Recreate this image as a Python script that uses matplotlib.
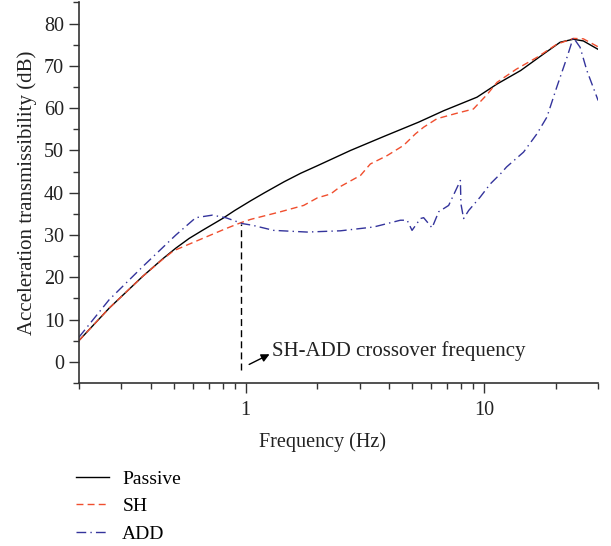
import matplotlib
matplotlib.use('Agg')
import matplotlib.pyplot as plt
from matplotlib.ticker import FixedLocator, NullFormatter, MultipleLocator
import numpy as np

plt.rcParams['font.family'] = ['Liberation Serif', 'DejaVu Serif']

# data
passive_f = [0.2, 0.268, 0.37, 0.45, 0.51, 0.58, 0.659, 0.8, 0.9, 1.05, 1.2, 1.45, 1.7, 2.0,
             2.75, 3.79, 5.31, 6.76, 9.32, 11.3, 14.2, 17.7, 20.8, 23.6, 26, 30]
passive_db = [5.0, 12.7, 20.2, 24.4, 26.9, 29.2, 31.1, 33.9, 35.8, 38.1, 40.0, 42.6, 44.6,
              46.4, 50.0, 53.3, 56.7, 59.4, 62.6, 65.7, 68.9, 72.8, 75.6, 76.3, 75.9, 73.9]

sh_f = [0.2, 0.268, 0.37, 0.45, 0.5, 0.6, 0.7, 0.825, 0.953, 1.05, 1.4, 1.75, 2.0, 2.27, 2.5,
        3.03, 3.33, 3.92, 4.59, 5.14, 5.57, 6.33, 7.67, 9.0, 10.3, 11.3, 13.6, 16.6, 20.1,
        23.6, 26, 30]
sh_db = [5.0, 12.7, 20.2, 24.3, 26.3, 28.2, 29.8, 31.5, 32.9, 33.7, 35.5, 37.0, 38.8, 39.7,
         41.5, 44.1, 46.8, 48.8, 51.2, 53.9, 55.5, 57.5, 58.8, 59.8, 63.3, 66.1, 69.2, 72.0,
         75.1, 76.5, 76.4, 74.5]

add_f = [0.2, 0.268, 0.37, 0.51, 0.618, 0.725, 0.825, 0.97, 1.07, 1.31, 1.81, 2.5, 3.44,
         3.67, 4.45, 4.75, 4.98, 5.4, 5.57, 6.04, 6.44, 7.09, 7.94, 7.98, 8.19, 8.6, 9.62,
         10.6, 11.7, 12.4, 14.6, 16.6, 18.3, 20.1, 22.2, 23.6, 25.2, 26.9, 30]
add_db = [5.8, 14.7, 22.5, 30.0, 34.1, 34.7, 34.1, 32.7, 32.3, 31.1, 30.7, 31.0, 31.9,
          32.3, 33.5, 33.5, 31.1, 33.9, 34.1, 31.7, 35.5, 37.0, 42.9, 37.4, 33.9, 35.8, 39.0,
          42.1, 44.5, 46.1, 49.6, 53.9, 57.9, 64.9, 72.0, 76.7, 74.4, 68.9, 61.8]

cross_f = 0.953
cross_db = 32.6

fig = plt.figure(figsize=(6.11, 5.46), dpi=100)
ax = fig.add_axes([0.129, 0.2985, 0.85, 0.697])

ax.plot(passive_f, passive_db, color='black', lw=1.0, label='Passive')
ax.plot(sh_f, sh_db, color='#f04e2e', lw=1.0, ls=(0, (5, 3)), label='SH')
ax.plot(add_f, add_db, color='#34349c', lw=1.0, ls=(0, (7, 3, 1, 3)), label='ADD')

ax.plot([cross_f, cross_f], [-2, cross_db], color='black', lw=1.0, ls=(0, (5, 3)))
ax.annotate('', xy=(1.29, 2.1), xytext=(1.01, -0.9),
            arrowprops=dict(arrowstyle='-|>', color='black', lw=1.0, mutation_scale=12))
ax.text(1.29, 2.6, 'SH-ADD crossover frequency', fontsize=15, va='center', ha='left',
        color='#222222')

ax.set_xscale('log')
ax.set_xlim(0.2, 30)
ax.set_ylim(-5, 85)
ax.xaxis.set_major_locator(FixedLocator([1, 10]))
ax.set_xticklabels(['1', '10'])
ax.xaxis.set_minor_locator(FixedLocator([0.2, 0.3, 0.4, 0.5, 0.6, 0.7, 0.8, 0.9,
                                         2, 3, 4, 5, 6, 7, 8, 9, 20, 30]))
ax.xaxis.set_minor_formatter(NullFormatter())
ax.yaxis.set_major_locator(FixedLocator(np.arange(0, 81, 10)))
ax.yaxis.set_minor_locator(MultipleLocator(5))

for s in ['top', 'right']:
    ax.spines[s].set_visible(False)
for s in ['left', 'bottom']:
    ax.spines[s].set_linewidth(1.2)
    ax.spines[s].set_color('#333333')
ax.tick_params(which='major', direction='out', length=7, width=1.0, labelsize=14.5,
               colors='#333333', labelcolor='#222222')
ax.tick_params(axis='x', which='major', pad=6)
ax.tick_params(which='minor', direction='out', length=4, width=1.0, colors='#333333')

ax.set_xlabel('Frequency (Hz)', fontsize=14.5, color='#222222', labelpad=9)
ax.xaxis.label.set_x(0.47)
ax.set_ylabel('Acceleration transmissibility (dB)', fontsize=15, color='#222222', labelpad=5)

fig.legend(loc='upper left', bbox_to_anchor=(0.112, 0.153), frameon=False, fontsize=14,
           handlelength=1.7, handletextpad=0.67, labelspacing=0.5, borderaxespad=0)

fig.savefig('out.png', dpi=100)
